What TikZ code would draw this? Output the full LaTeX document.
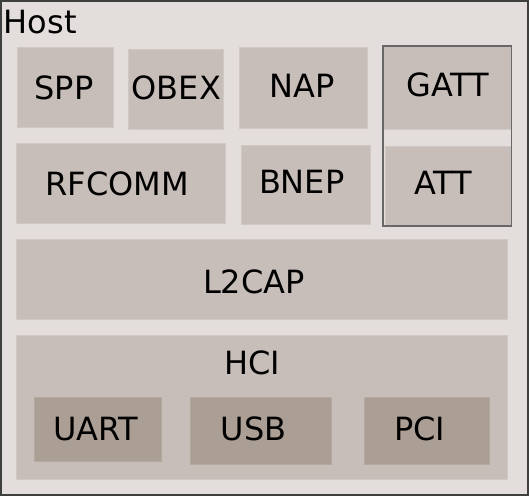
\documentclass[tikz,border=0pt]{standalone}
\usepackage{fontspec}
\setmainfont{DejaVu Sans}
\definecolor{hostbg}{HTML}{E3DEDB}
\definecolor{layerbg}{HTML}{C8BEB9}
\definecolor{layeredge}{HTML}{D0C8C4}
\definecolor{portbg}{HTML}{AB9E94}
\definecolor{portedge}{HTML}{B5A99F}
\tikzset{
  layer/.style={fill=layerbg,draw=layeredge,line width=0.8pt},
  port/.style={fill=portbg,draw=portedge,line width=0.8pt},
  lbl/.style={anchor=base,inner sep=0pt,font=\fontsize{32}{38}\selectfont}
}

\begin{document}
\begin{tikzpicture}[x=1pt,y=-1pt]
  \useasboundingbox (0,0) rectangle (529,497);
  % host frame
  \draw[fill=hostbg,draw={rgb,255:red,63;green,63;blue,63},line width=2pt] (1,1) rectangle (527.5,494.5);
  \node[lbl,anchor=base west] (host) at (3.5,33.3) {Host};
  % profiles
  \draw[layer] (17,47) rectangle (113,127);
  \node[lbl] (spp) at (64,100) {SPP};
  \draw[layer] (128,49) rectangle (223,129);
  \node[lbl] (obex) at (176.3,100) {OBEX};
  \draw[layer] (239,47) rectangle (367,128);
  \node[lbl] (nap) at (302,97.7) {NAP};
  % protocols
  \draw[layer] (16,143) rectangle (225,223);
  \node[lbl] (rfcomm) at (117.3,195) {RFCOMM};
  \draw[layer] (241,145) rectangle (370,224);
  \node[lbl] (bnep) at (301.7,193.3) {BNEP};
  % low energy
  \draw[layer] (383,46) rectangle (511,129);
  \node[lbl] (gatt) at (447.8,96.7) {GATT};
  \draw[layer] (385,146) rectangle (511,226);
  \node[lbl] (att) at (443.3,194) {ATT};
  \draw[draw={rgb,255:red,104;green,104;blue,104},line width=1.5pt] (383,46) rectangle (511.5,226);
  % l2cap
  \draw[layer] (16,239) rectangle (507,319);
  \node[lbl] (l2cap) at (254,293.3) {L2CAP};
  % hci and transports
  \draw[layer] (16,335) rectangle (507,479);
  \node[lbl] (hci) at (252.2,374) {HCI};
  \draw[port] (34,397) rectangle (161,461);
  \node[lbl] (uart) at (95.5,440.7) {UART};
  \draw[port] (190,397) rectangle (331,464);
  \node[lbl] (usb) at (253.5,440.7) {USB};
  \draw[port] (364,397) rectangle (489,464);
  \node[lbl] (pci) at (419.7,440) {PCI};
\end{tikzpicture}
\end{document}
